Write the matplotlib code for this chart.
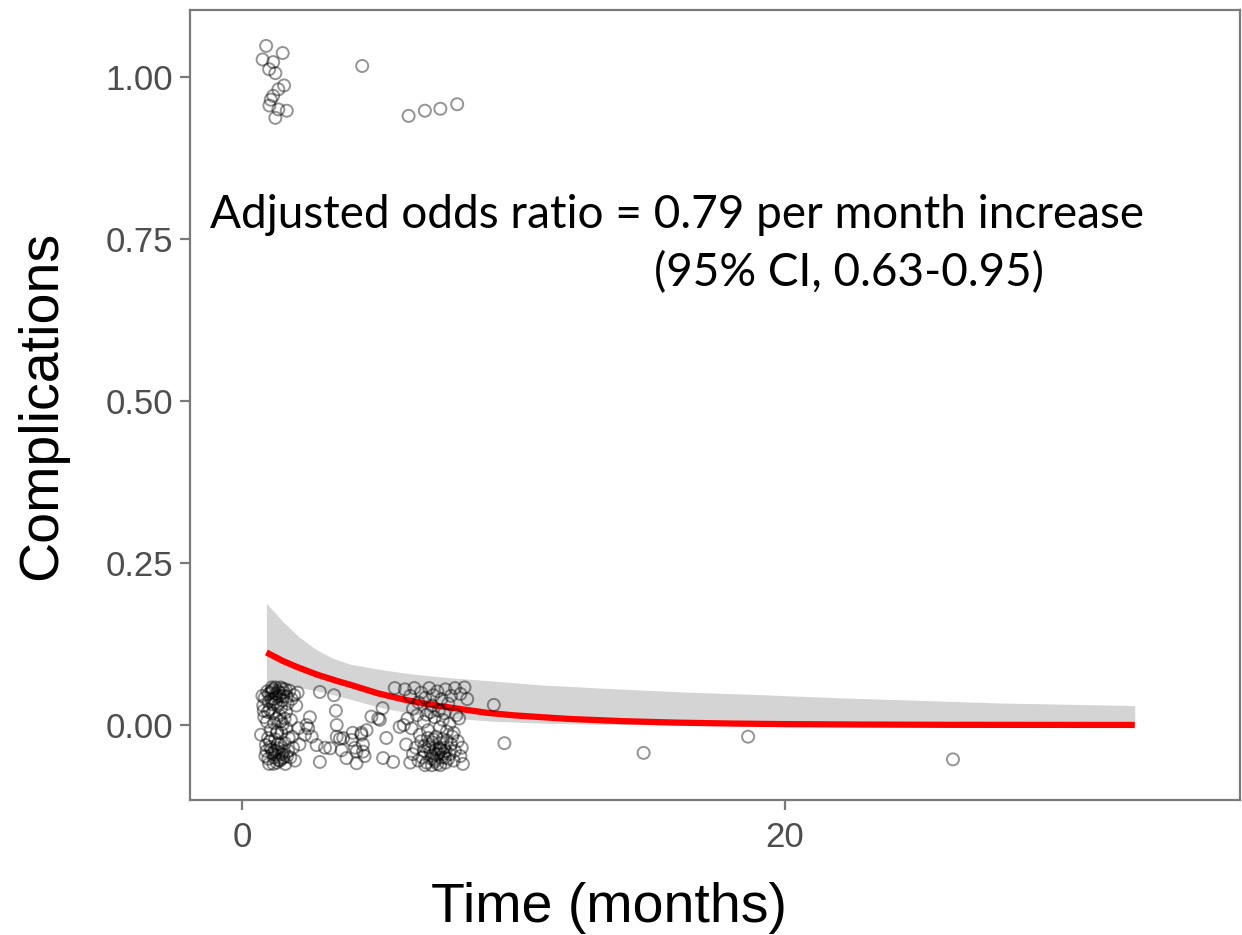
import numpy as np
import matplotlib.pyplot as plt

# jittered observations: complications == 1
top_x = [0.89, 1.50, 0.76, 1.15, 1.00, 1.23, 1.55, 1.34, 1.15, 1.06, 1.01, 1.34, 1.65, 1.23,
         4.43, 6.14, 6.74, 7.31, 7.93]
top_y = [1.048, 1.037, 1.027, 1.023, 1.012, 1.006, 0.987, 0.981, 0.971, 0.965, 0.956, 0.950,
         0.948, 0.937, 1.017, 0.940, 0.948, 0.951, 0.958]

# jittered observations: complications == 0
bot_x = [0.75, 0.82, 0.88, 0.93, 0.97, 1.02, 1.05, 1.08, 1.12, 1.15, 1.18, 1.22, 1.25, 1.28,
         1.32, 1.35, 1.38, 1.42, 1.45, 1.48, 1.52, 1.55, 1.58, 1.62, 1.65, 1.70, 1.75, 1.80,
         1.85, 1.92, 2.00, 2.08, 0.70, 0.78, 0.86, 0.92, 0.98, 1.03, 1.10, 1.13, 1.20, 1.24,
         1.30, 1.33, 1.40, 1.44, 1.50, 1.53, 1.60, 1.63, 1.68, 1.72, 1.78, 1.83, 1.88, 1.95,
         2.05, 2.12, 1.00, 1.16, 1.27, 1.37, 1.47, 1.57, 0.95, 1.07, 1.23, 1.41, 1.60, 1.66,
         0.84, 0.99, 1.11, 1.26, 1.39, 1.49, 1.09, 1.21, 1.36, 1.46, 0.90, 1.18, 1.31, 1.54,
         0.80, 0.96, 1.14, 1.29, 1.43, 1.04, 1.19, 1.34,
         2.87, 3.39, 3.46, 2.50, 2.38, 2.32, 2.75, 3.06, 2.87, 3.49, 3.49, 3.73, 3.85, 4.16,
         4.22, 4.40, 4.59, 4.77, 5.08, 5.18, 5.32, 5.20, 5.57, 5.63, 5.81, 4.46, 4.08, 2.44,
         2.57, 3.61, 3.67, 4.04, 4.22, 4.40, 3.25, 5.02, 5.96, 4.46, 4.52,
         6.0, 6.35, 6.6, 6.9, 7.2, 7.5, 7.85, 8.2, 6.2, 6.75, 7.05, 7.35, 7.7, 8.05, 6.5, 7.0,
         7.6, 8.3, 6.3, 7.25,
         6.1, 6.45, 6.7, 6.85, 7.1, 7.3, 7.45, 7.65, 7.8, 8.0, 6.55, 6.95, 7.15, 7.55, 7.9,
         6.25, 6.8, 7.4,
         6.05, 6.3, 6.5, 6.6, 6.7, 6.8, 6.9, 7.0, 7.05, 7.15, 7.2, 7.3, 7.35, 7.45, 7.5, 7.55,
         7.65, 7.7, 7.8, 7.85, 7.95, 8.05, 8.1, 6.4, 6.65, 6.95, 7.1, 7.25, 7.4, 7.6, 7.75,
         6.85, 7.0, 7.5, 6.2, 6.75, 7.3,
         6.88, 7.02, 7.18, 7.33, 7.48, 6.72, 7.12, 7.42, 6.98, 7.28,
         9.28, 9.67, 8.14, 14.80, 18.65, 26.20]
bot_y = [0.045, 0.012, -0.031, 0.052, -0.052, 0.024, -0.008, 0.040, -0.044, 0.055, 0.003, -0.022,
         0.048, -0.058, 0.030, -0.036, 0.015, 0.058, -0.012, 0.038, -0.050, 0.050, -0.028, 0.020,
         0.044, -0.040, 0.053, 0.008, -0.018, 0.046, 0.030, -0.005, -0.015, 0.030, -0.048, 0.005,
         0.036, -0.025, 0.058, 0.018, -0.040, 0.035, -0.010, 0.052, -0.055, 0.026, 0.001, 0.045,
         -0.060, -0.005, 0.033, -0.020, -0.050, 0.040, -0.035, -0.055, 0.050, -0.030, -0.060,
         -0.060, 0.010, 0.045, -0.045, 0.010, 0.020, 0.050, 0.058, -0.030, 0.055, -0.048,
         0.042, 0.048, 0.053, 0.044, 0.050, 0.056, -0.038, -0.046, -0.042, -0.052, -0.040,
         -0.050, -0.030, -0.040,
         0.022, -0.020, 0.032, -0.012, 0.006, -0.034, 0.040, -0.054,
         0.051, 0.046, 0.022, 0.012, 0.000, -0.015, -0.031, -0.035, -0.057, 0.000, -0.018,
         -0.020, -0.051, -0.035, -0.059, -0.015, -0.008, 0.013, 0.008, 0.026, -0.020, -0.051,
         -0.057, 0.057, -0.003, -0.041, -0.012, -0.005, -0.018, -0.021, -0.039, -0.023, -0.041,
         -0.012, -0.036, 0.010, 0.000, -0.030, -0.048,
         0.055, 0.057, 0.050, 0.057, 0.052, 0.055, 0.057, 0.058, 0.045, 0.042, 0.046, 0.040,
         0.045, 0.048, 0.035, 0.030, 0.033, 0.040, 0.025, 0.022,
         0.010, 0.015, 0.005, -0.008, 0.012, -0.003, 0.018, 0.002, -0.012, 0.010, -0.015, 0.020,
         -0.018, -0.010, 0.015, -0.005, 0.016, 0.008,
         -0.030, -0.045, -0.055, -0.025, -0.040, -0.058, -0.030, -0.048, -0.022, -0.038, -0.060,
         -0.028, -0.050, -0.035, -0.058, -0.024, -0.045, -0.030, -0.055, -0.040, -0.025, -0.048,
         -0.035, -0.035, -0.050, -0.042, -0.053, -0.044, -0.022, -0.052, -0.018, -0.020, -0.062,
         -0.040, -0.058, -0.062, -0.062,
         -0.034, -0.027, -0.046, -0.038, -0.050, -0.033, -0.056, -0.044, -0.052, -0.036,
         0.031, -0.028, -0.060, -0.043, -0.018, -0.053]

# fitted logistic curve
fit_x = [0.9, 1.5, 2.0, 2.75, 3.5, 4.0, 5.0, 6.0, 7.0, 8.0, 9.0, 10.0, 12.0, 14.0, 16.0,
         18.0, 20.0, 23.0, 26.0, 29.0, 32.9]
fit_y = [0.112, 0.099, 0.090, 0.078, 0.068, 0.062, 0.049, 0.039, 0.031, 0.025, 0.019, 0.015,
         0.0095, 0.006, 0.0037, 0.0023, 0.0014, 0.0007, 0.0003, 0.0002, 0.0001]

# 95% confidence band
ci_x = [0.9, 1.5, 2.1, 2.75, 3.35, 3.97, 5.2, 6.4, 7.65, 9.2, 11.0, 13.2, 16.2, 19.0, 22.0,
        25.0, 27.9, 30.5, 32.9]
ci_hi = [0.188, 0.160, 0.136, 0.116, 0.103, 0.094, 0.085, 0.078, 0.073, 0.068, 0.062, 0.057,
         0.051, 0.047, 0.042, 0.038, 0.034, 0.032, 0.030]
ci_lo = [0.065, 0.062, 0.058, 0.053, 0.047, 0.040, 0.026, 0.017, 0.011, 0.006, 0.003, 0.001,
         0.0003, 0.0001, 0.0, 0.0, 0.0, 0.0, 0.0]

fig = plt.figure(figsize=(12.42, 9.35), dpi=100)
ax = fig.add_axes([0.153, 0.1444, 0.845, 0.8449])

ax.fill_between(ci_x, ci_lo, ci_hi, color='#d4d4d4', lw=0, zorder=1)
ax.plot(fit_x, fit_y, color='red', lw=4.5, zorder=2, solid_capstyle='butt',
        solid_joinstyle='round')
ax.scatter(top_x + bot_x, top_y + bot_y, s=75, facecolors='none',
           edgecolors=(0, 0, 0, 0.42), linewidths=1.4, zorder=3)

ax.set_xlim(-1.915, 36.76)
ax.set_ylim(-0.1157, 1.1034)
ax.set_xticks([0, 20])
ax.set_yticks([0, 0.25, 0.5, 0.75, 1.0])
ax.set_yticklabels(['0.00', '0.25', '0.50', '0.75', '1.00'])

for s in ax.spines.values():
    s.set_color('#7a7a7a')
    s.set_linewidth(1.6)
ax.tick_params(color='#7a7a7a', width=1.6, length=7, labelsize=25,
               labelcolor='#4d4d4d', pad=5)
ax.tick_params(axis='x', pad=8)
for lab in ax.get_xticklabels() + ax.get_yticklabels():
    lab.set_family('Liberation Sans')

ax.set_xlabel('Time (months)', fontsize=40, family='Liberation Sans')
ax.set_ylabel('Complications', fontsize=40, family='Liberation Sans')
ax.xaxis.set_label_coords(0.399, -0.104)
ax.yaxis.set_label_coords(-0.116, 0.5)

ax.text(-1.18, 0.767, 'Adjusted odds ratio = 0.79 per month increase', fontsize=33,
        family='Lato', va='baseline', ha='left')
ax.text(15.2, 0.677, '(95% CI, 0.63-0.95)', fontsize=33, family='Lato',
        va='baseline', ha='left')

fig.savefig('out.png', dpi=100)
